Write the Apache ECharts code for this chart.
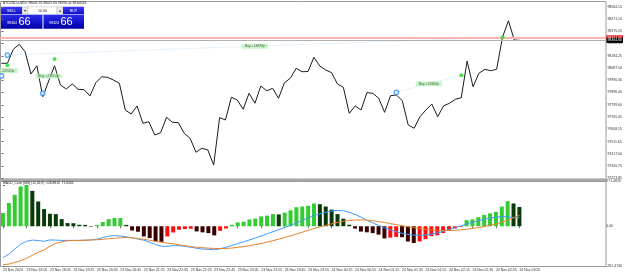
<!DOCTYPE html>
<html><head><meta charset="utf-8">
<script src="https://cdn.jsdelivr.net/npm/echarts@6/dist/echarts.min.js"></script>
<style>html,body{margin:0;padding:0;background:#fff}#c{width:625px;height:277px}</style>
</head><body><div id="c"></div><script>
// ---- data ----
const closes = [98125,98125,98235,98274,98216,98041,98106,97863,97986,98106,
97955,97924,97963,97921,97919,97869,97973,98020,98015,97994,
97968,97759,97728,97791,97655,97667,97563,97581,97702,97663,
97660,97577,97537,97428,97459,97446,97328,97699,97681,97859,
97838,97765,97890,97812,97947,97910,97929,97851,97973,98008,
98086,98059,98061,98172,98104,98073,98052,97963,97937,97733,
97791,97759,97895,97890,97851,97741,97871,97877,97832,97642,
97616,97707,97759,97806,97707,97791,97812,97843,97856,98143,
97942,98047,98078,98067,98078,98329,98459,98308,98304.66];
const priceTicks = [97223.85,97320.75,97417.60,97511.65,97608.55,97705.45,97799.60,97896.40,97990.30,98087.50,98184.25,98280.35,98375.20,98471.10,98564.15];
const askPrice = 98324.66, bidPrice = 98304.66;
const timeLabels = ["23 Nov 2024","23 Nov 18:05","23 Nov 18:45","23 Nov 19:25","23 Nov 20:05","23 Nov 20:45","23 Nov 21:25","23 Nov 22:05","23 Nov 22:25","23 Nov 22:45","23 Nov 23:05","23 Nov 23:25","23 Nov 23:45","23 Nov 23:55","24 Nov 00:25","24 Nov 00:55","24 Nov 01:15","24 Nov 01:35","24 Nov 01:55","24 Nov 02:15","24 Nov 02:35","24 Nov 02:55","24 Nov 03:20"];
const macdHist = [87,153,207,262,271.48,233,163,113,82,80,
47,21,20,10,9,-3,8,28,47,54,
54,9,-28,-36,-67,-78,-100,-103,-67,-41,
-23,-18,-16,-34,-40,-45,-60,-30,-15,10,
25,30,45,50,65,70,80,78,90,105,
125,130,135,150,145,130,110,80,50,10,
-15,-35,-40,-45,-55,-80,-75,-70,-72,-100,
-110,-100,-85,-65,-60,-45,-30,-15,-5,40,
45,60,75,85,95,130,165,150,126.88];
const macdMain = [-207,-184,-150,-118,-99,-91,-94,-99,-90,-91,
-93,-93,-93,-93,-92,-90,-86,-74,-66,-61,
-64,-69,-76,-84,-92,-105,-120,-132,-132,-128,
-128,-132,-138,-145,-150,-152,-155,-148,-138,-126,
-114,-102,-90,-77,-64,-50,-36,-22,-8,6,
22,38,55,70,82,92,100,105,102,92,
78,60,40,22,6,-10,-24,-36,-46,-54,
-58,-60,-58,-52,-44,-34,-22,-10,2,16,
26,36,46,54,60,64,62,58,56];
const macdSignal = [-253,-249,-238,-227,-211,-191,-171,-155,-132,-112,
-102,-95,-94,-93,-92,-90,-89,-86,-82,-79,
-76,-74,-76,-81,-86,-92,-99,-105,-111,-115,
-122,-128,-134,-138,-141,-144,-146,-147,-146,-143,
-139,-134,-128,-121,-113,-104,-95,-85,-74,-63,
-51,-39,-27,-15,-4,6,16,25,33,38,
41,42,40,36,31,25,18,11,4,-3,
-9,-15,-20,-24,-27,-28,-28,-27,-24,-20,
-15,-9,-2,6,15,26,40,56,71.65];
const macdTicks = [-261.4746, 0, 271.4826];
// trades: open index/price, close index/price, label
const tradeOpenIdx = [0,1,7,67];
const tradeOpenPx = [98026,98190,97890,97898];
const tradeCloseIdx = [1,85,9,78];
const tradeClosePx = [98110,98329,98159,98031];
const tradeText = ["Buy +20559p","Buy +13878p","Buy +27614p","Buy +13360p"];
const titleText = "BTCUSD.a,M10  98045.76 98027.83 98290.42 98304.66";
const macdTitle = "MACD_Color [MS] (12,26,9)  126.8810  71.6462";

// ---- build ----
const FONT = "Liberation Sans";
const FS = 3.5;
const xMin = -1.5/5.9, xMax = xMin + 606/5.9;
const lineData = closes.map((v,i)=>[i,v]);
const histData = macdHist.map((v,i)=>{
  const prev = i>0 ? macdHist[i-1] : -Infinity;
  let c;
  if (v >= 0) c = (i===0 || v >= prev) ? '#33cc33' : '#0a3a0a';
  else c = (v < prev) ? '#3a0000' : '#ff1010';
  return {value:[i,v], itemStyle:{color:c}};
});
const tickIdx = timeLabels.map((_,k)=>k*4);

const chart = echarts.init(document.getElementById('c'), null, {renderer:'canvas'});
const xBase = {type:'value', min:xMin, max:xMax, splitLine:{show:false}, axisLine:{show:false}};
chart.setOption({
  animation:false,
  textStyle:{fontFamily:FONT},
  grid:[
    {left:0, right:19, top:1, height:177.3, show:false},
    {left:0, right:19, top:185, height:81, show:false}
  ],
  xAxis:[
    Object.assign({gridIndex:0, axisLabel:{show:false}, axisTick:{show:false}}, xBase),
    Object.assign({gridIndex:1, position:'bottom',
      axisTick:{show:true, length:2, inside:false, customValues:tickIdx, lineStyle:{color:'#666'}},
      axisLabel:{show:true, customValues:tickIdx, fontSize:FS, color:'#333', align:'left', margin:2,
        formatter:(v)=>timeLabels[Math.round(v/4)] || ''}}, xBase)
  ],
  yAxis:[
    {gridIndex:0, type:'value', position:'right', min:priceTicks[0], max:priceTicks[0]+177.3*7.838,
     splitLine:{show:false}, axisLine:{show:false},
     axisTick:{show:true, length:2, customValues:priceTicks, lineStyle:{color:'#666'}},
     axisLabel:{customValues:priceTicks, fontSize:FS, color:'#333', margin:2, formatter:(v)=>v.toFixed(2)}},
    {gridIndex:1, type:'value', position:'right', min:macdTicks[0], max:macdTicks[2],
     splitLine:{show:false}, axisLine:{show:false},
     axisTick:{show:true, length:2, customValues:macdTicks, lineStyle:{color:'#666'}},
     axisLabel:{customValues:macdTicks, fontSize:FS, color:'#333', margin:2,
       formatter:(v)=> v===macdTicks[2] ? '{t|'+v.toFixed(4)+'}' : (v===0 ? '0.00' : v.toFixed(4)),
       rich:{t:{fontSize:FS, color:'#333', padding:[0,0,8,0]}}}}
  ],
  graphic:[
    {type:'rect', z:-10, silent:true, shape:{x:0.5,y:1.5,width:605.5,height:177.5}, style:{fill:'none', stroke:'#9a9a9a', lineWidth:1}},
    {type:'rect', z:-10, silent:true, shape:{x:0,y:179,width:607,height:2}, style:{fill:'#a8a8a8'}},
    {type:'rect', z:-10, silent:true, shape:{x:0.5,y:181.5,width:605.5,height:85}, style:{fill:'none', stroke:'#9a9a9a', lineWidth:1}},
    {type:'text', z:100, left:3, top:1.5, style:{text:titleText, fontSize:3.3, fill:'#222', fontFamily:FONT}},
    {type:'text', z:100, left:3, top:182, style:{text:macdTitle, fontSize:3.3, fill:'#222', fontFamily:FONT}},
    // one-click trading panel
    {type:'group', z:100, left:1, top:6.5, children:[
      {type:'rect', shape:{x:0,y:0,width:21,height:7.5}, style:{fill:new echarts.graphic.LinearGradient(0,0,0,1,[{offset:0,color:'#3a3aff'},{offset:1,color:'#1010c0'}])}},
      {type:'text', style:{x:10.5,y:3.9,text:'SELL',fontSize:3.6,fill:'#fff',align:'center',verticalAlign:'middle',fontFamily:FONT}},
      {type:'rect', shape:{x:21.5,y:0,width:5.5,height:7.5}, style:{fill:'#e8e8e8', stroke:'#bbb', lineWidth:0.5}},
      {type:'text', style:{x:24.2,y:3.9,text:'▾',fontSize:3.5,fill:'#333',align:'center',verticalAlign:'middle'}},
      {type:'rect', shape:{x:27,y:0,width:29,height:7.5}, style:{fill:'#fff', stroke:'#bbb', lineWidth:0.5}},
      {type:'text', style:{x:41.5,y:3.9,text:'10.00',fontSize:3.6,fill:'#222',align:'center',verticalAlign:'middle',fontFamily:FONT}},
      {type:'rect', shape:{x:56,y:0,width:5.5,height:7.5}, style:{fill:'#e8e8e8', stroke:'#bbb', lineWidth:0.5}},
      {type:'text', style:{x:58.7,y:3.9,text:'▴',fontSize:3.5,fill:'#333',align:'center',verticalAlign:'middle'}},
      {type:'rect', shape:{x:62,y:0,width:21,height:7.5}, style:{fill:new echarts.graphic.LinearGradient(0,0,0,1,[{offset:0,color:'#3a3aff'},{offset:1,color:'#1010c0'}])}},
      {type:'text', style:{x:72.5,y:3.9,text:'BUY',fontSize:3.6,fill:'#fff',align:'center',verticalAlign:'middle',fontFamily:FONT}},
      {type:'rect', shape:{x:0,y:8,width:41.5,height:14}, style:{fill:new echarts.graphic.LinearGradient(0,0,0,1,[{offset:0,color:'#2a2aee'},{offset:1,color:'#0000a8'}])}},
      {type:'text', style:{x:16,y:16.5,text:'98304',fontSize:3.5,fill:'#fff',align:'right',verticalAlign:'middle',fontFamily:FONT}},
      {type:'text', style:{x:17.5,y:15.2,text:'66',fontSize:11,fill:'#fff',align:'left',verticalAlign:'middle',fontFamily:FONT}},
      {type:'rect', shape:{x:42.5,y:8,width:40.5,height:14}, style:{fill:new echarts.graphic.LinearGradient(0,0,0,1,[{offset:0,color:'#2a2aee'},{offset:1,color:'#0000a8'}])}},
      {type:'text', style:{x:58,y:16.5,text:'98324',fontSize:3.5,fill:'#fff',align:'right',verticalAlign:'middle',fontFamily:FONT}},
      {type:'text', style:{x:59.5,y:15.2,text:'66',fontSize:11,fill:'#fff',align:'left',verticalAlign:'middle',fontFamily:FONT}}
    ]}
  ],
  series:[
    {type:'line', xAxisIndex:0, yAxisIndex:0, data:lineData, symbol:'none', lineStyle:{color:'#1a1a1a', width:1}, z:3,
     markLine:{silent:true, symbol:'none', animation:false,
       data:[
         {yAxis:askPrice, lineStyle:{color:'#ffb3b3', width:2, type:'solid'},
          label:{position:'end', formatter:askPrice.toFixed(2), fontSize:FS, color:'#fff', backgroundColor:'#e00000', padding:[0.5,1], distance:1}},
         {yAxis:bidPrice, lineStyle:{color:'#b0b0b0', width:1, type:'solid'},
          label:{position:'end', formatter:bidPrice.toFixed(2), fontSize:FS, color:'#fff', backgroundColor:'#000', padding:[0.5,1], distance:1}}
       ]}},
    {type:'lines', coordinateSystem:'cartesian2d', xAxisIndex:0, yAxisIndex:0, z:4, silent:true,
     data:tradeOpenIdx.map((o,k)=>({coords:[[o,tradeOpenPx[k]],[tradeCloseIdx[k],tradeClosePx[k]]]})),
     lineStyle:{color:'#7fbdf5', width:1, type:[1,1.5]}},
    {type:'scatter', xAxisIndex:0, yAxisIndex:0, z:6, silent:true, symbol:'circle', symbolSize:0.1,
     data:tradeOpenIdx.map((o,k)=>({value:[(o+tradeCloseIdx[k])/2,(tradeOpenPx[k]+tradeClosePx[k])/2], name:tradeText[k]})),
     label:{show:true, position:'inside', formatter:(p)=>p.name, fontSize:3.4, color:'#333', backgroundColor:'#b9f2b9', padding:[1,3]}},
    {type:'scatter', xAxisIndex:0, yAxisIndex:0, z:7, silent:true, symbol:'circle', symbolSize:4.5,
     data:tradeOpenIdx.map((o,k)=>[o,tradeOpenPx[k]]),
     itemStyle:{color:'#e6f3ff', borderColor:'#2f8ff0', borderWidth:1.3}},
    {type:'scatter', xAxisIndex:0, yAxisIndex:0, z:7, silent:true, symbol:'circle', symbolSize:4,
     data:tradeCloseIdx.map((c,k)=>[c,tradeClosePx[k]]),
     itemStyle:{color:'#22dd22'}},
    {type:'bar', xAxisIndex:1, yAxisIndex:1, data:histData, barWidth:4, z:2},
    {type:'line', xAxisIndex:1, yAxisIndex:1, data:macdMain.map((v,i)=>[i,v]), symbol:'none', lineStyle:{color:'#3d9bff', width:1}, z:3},
    {type:'line', xAxisIndex:1, yAxisIndex:1, data:macdSignal.map((v,i)=>[i,v]), symbol:'none', lineStyle:{color:'#e8822a', width:1}, z:3}
  ]
});
</script></body></html>
